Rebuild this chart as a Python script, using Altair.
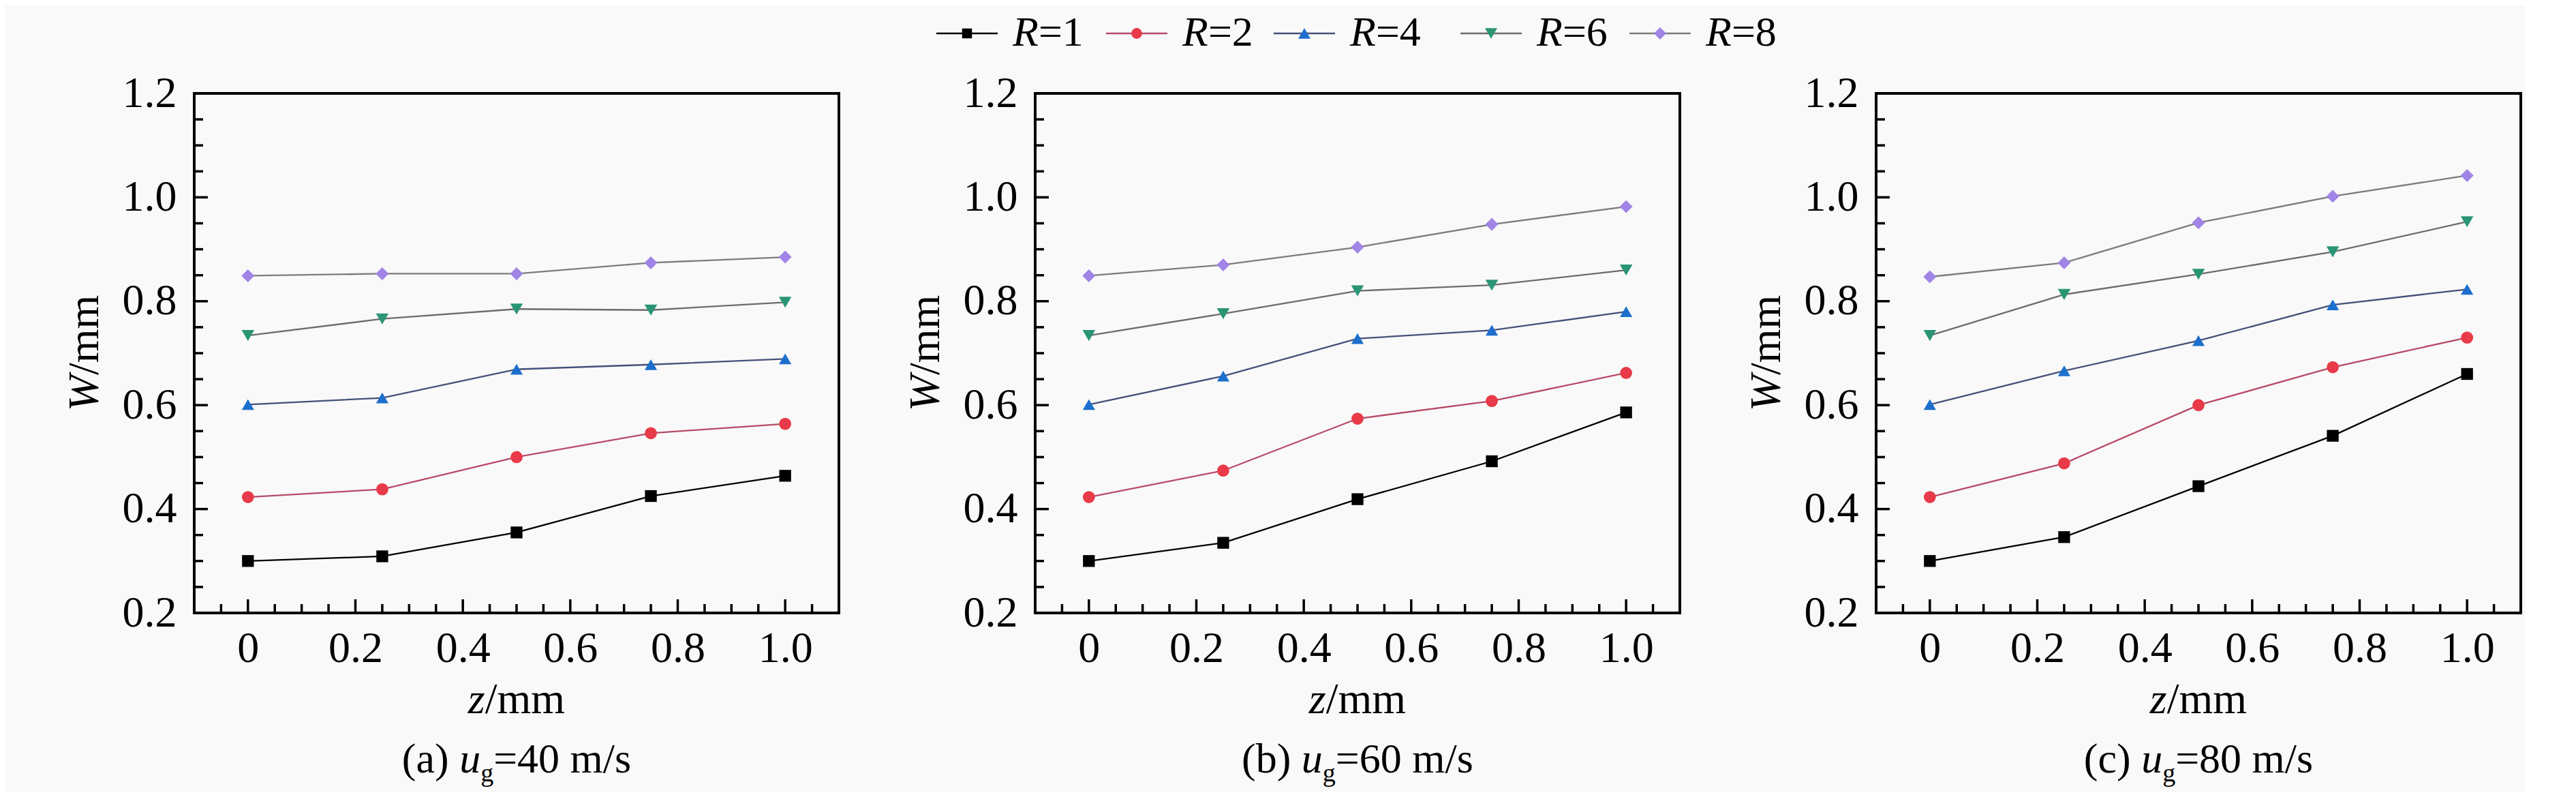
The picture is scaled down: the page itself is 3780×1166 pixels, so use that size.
import altair as alt
import pandas as pd

# ---------------- data ----------------
Z = [0, 0.25, 0.5, 0.75, 1.0]
SERIES = ["R=1", "R=2", "R=4", "R=6", "R=8"]
R_NUM = ["1", "2", "4", "6", "8"]
PANEL_TAGS = ["(a)", "(b)", "(c)"]
SPEEDS = ["40", "60", "80"]

W_A_R1 = [0.300, 0.309, 0.355, 0.425, 0.464]
W_A_R2 = [0.423, 0.438, 0.500, 0.546, 0.564]
W_A_R4 = [0.601, 0.614, 0.669, 0.678, 0.689]
W_A_R6 = [0.734, 0.766, 0.785, 0.783, 0.798]
W_A_R8 = [0.849, 0.853, 0.853, 0.874, 0.885]

W_B_R1 = [0.300, 0.335, 0.419, 0.492, 0.586]
W_B_R2 = [0.423, 0.474, 0.574, 0.608, 0.662]
W_B_R4 = [0.601, 0.656, 0.728, 0.744, 0.780]
W_B_R6 = [0.734, 0.776, 0.820, 0.831, 0.860]
W_B_R8 = [0.849, 0.870, 0.904, 0.948, 0.982]

W_C_R1 = [0.300, 0.346, 0.444, 0.541, 0.660]
W_C_R2 = [0.423, 0.488, 0.600, 0.673, 0.730]
W_C_R4 = [0.601, 0.666, 0.724, 0.793, 0.823]
W_C_R6 = [0.734, 0.813, 0.852, 0.895, 0.953]
W_C_R8 = [0.847, 0.874, 0.951, 1.002, 1.042]

PANEL_DATA = [
    [W_A_R1, W_A_R2, W_A_R4, W_A_R6, W_A_R8],
    [W_B_R1, W_B_R2, W_B_R4, W_B_R6, W_B_R8],
    [W_C_R1, W_C_R2, W_C_R4, W_C_R6, W_C_R8],
]

X_LABELS = [0, 0.2, 0.4, 0.6, 0.8, 1.0]
X_MINOR = [-0.05, 0.05, 0.1, 0.15, 0.25, 0.3, 0.35, 0.45, 0.5, 0.55,
           0.65, 0.7, 0.75, 0.85, 0.9, 0.95, 1.05]
Y_LABELS = [0.2, 0.4, 0.6, 0.8, 1.0, 1.2]
Y_MINOR = [0.25, 0.3, 0.35, 0.45, 0.5, 0.55, 0.65, 0.7, 0.75, 0.85,
           0.9, 0.95, 1.05, 1.1, 1.15]

# ---------------- style ----------------
FONT = "'Liberation Serif', 'Times New Roman', serif"
BG = "#f9f9f9"
LINE_COLORS = ["#000000", "#b84a66", "#46507a", "#6c6c6c", "#7c7c7c"]
MARK_COLORS = ["#000000", "#e83a48", "#1c6fcc", "#2a9575", "#a084e6"]
SHAPES = ["square", "circle", "triangle-up", "triangle-down", "diamond"]
SIZES = [300, 360, 460, 460, 460]

PW, PH = 946, 762
TICK_MAJ, TICK_MIN = 20, 13
FS_TICK, FS_TITLE, FS_CAP, FS_SUB, FS_LEG = 64, 64, 62, 38, 62

REG = {'(': .333, ')': .333, 'a': .444, 'b': .5, 'c': .444, ' ': .25, '=': .564,
       'm': .778, '/': .278, 's': .389, 'g': .5}
for d in "0123456789":
    REG[d] = .5
ITA = {'u': .5, 'z': .389, 'W': .833, 'R': .611}


def tw(s, table, fs):
    return sum(table.get(ch, .5) for ch in s) * fs


def txt(s, x, y, fs, italic=False, align="left", angle=None):
    kw = dict(text=s, font=FONT, fontSize=fs, align=align,
              baseline="alphabetic", color="black")
    if italic:
        kw["fontStyle"] = "italic"
    if angle is not None:
        kw["angle"] = angle
    return alt.Chart(alt.Data(values=[{"k": 1}])).mark_text(**kw).encode(
        x=alt.value(x), y=alt.value(y))


xs = alt.Scale(domain=[-0.1, 1.1], nice=False, zero=False)
ys = alt.Scale(domain=[0.2, 1.2], nice=False, zero=False)
xax = alt.Axis(values=X_LABELS, ticks=False, domain=False, grid=False, title=None,
               labelPadding=20, labelFlush=False, labelOverlap=False,
               labelFont=FONT, labelFontSize=FS_TICK, labelColor="black",
               labelExpr="datum.value == 0 ? '0' : format(datum.value, '.1f')")
yax = alt.Axis(values=Y_LABELS, ticks=False, domain=False, grid=False, title=None,
               labelPadding=26, labelFlush=False, labelOverlap=False,
               labelFont=FONT, labelFontSize=FS_TICK, labelColor="black", format=".1f")


def X(f):
    return alt.X(f, type="quantitative", scale=xs, axis=xax)


def Y(f):
    return alt.Y(f, type="quantitative", scale=ys, axis=yax)


def panel(i):
    rows = []
    for s, vals in zip(SERIES, PANEL_DATA[i]):
        for z, w in zip(Z, vals):
            rows.append({"series": s, "z": z, "W": w})
    df = pd.DataFrame(rows)

    layers = []
    # inward ticks
    layers.append(alt.Chart(pd.DataFrame({"v": Y_LABELS})).mark_rule(
        color="black", strokeWidth=3.5).encode(
        y=Y("v"), x=alt.value(0), x2=alt.value(TICK_MAJ)))
    layers.append(alt.Chart(pd.DataFrame({"v": Y_MINOR})).mark_rule(
        color="black", strokeWidth=3.5).encode(
        y=Y("v"), x=alt.value(0), x2=alt.value(TICK_MIN)))
    layers.append(alt.Chart(pd.DataFrame({"v": X_LABELS})).mark_rule(
        color="black", strokeWidth=3.5).encode(
        x=X("v"), y=alt.value(PH), y2=alt.value(PH - TICK_MAJ)))
    layers.append(alt.Chart(pd.DataFrame({"v": X_MINOR})).mark_rule(
        color="black", strokeWidth=3.5).encode(
        x=X("v"), y=alt.value(PH), y2=alt.value(PH - TICK_MIN)))

    layers.append(alt.Chart(df).mark_line(strokeWidth=2.3).encode(
        x=X("z"), y=Y("W"),
        stroke=alt.Stroke("series:N", scale=alt.Scale(domain=SERIES, range=LINE_COLORS), legend=None),
        detail="series:N"))
    layers.append(alt.Chart(df).mark_point(filled=True, opacity=1, strokeWidth=0).encode(
        x=X("z"), y=Y("W"),
        fill=alt.Fill("series:N", scale=alt.Scale(domain=SERIES, range=MARK_COLORS), legend=None),
        shape=alt.Shape("series:N", scale=alt.Scale(domain=SERIES, range=SHAPES), legend=None),
        size=alt.Size("series:N", scale=alt.Scale(domain=SERIES, range=SIZES), legend=None)))

    # x title: z/mm
    cx = PW / 2
    w_z = tw("z", ITA, FS_TITLE)
    w_rest = tw("/mm", REG, FS_TITLE)
    ax = cx - (w_z + w_rest) / 2 + w_z
    layers.append(txt("z", ax, PH + 147, FS_TITLE, italic=True, align="right"))
    layers.append(txt("/mm", ax, PH + 147, FS_TITLE, align="left"))

    # y title: W/mm (rotated)
    cy = PH / 2
    w_w = tw("W", ITA, FS_TITLE)
    w_rest = tw("/mm", REG, FS_TITLE)
    ay = cy + (w_w + w_rest) / 2 - w_w
    layers.append(txt("W", -141, ay, FS_TITLE, italic=True, align="right", angle=270))
    layers.append(txt("/mm", -141, ay, FS_TITLE, align="left", angle=270))

    # caption: (x) u_g=NN m/s
    p1 = PANEL_TAGS[i] + " "
    p3 = "=" + SPEEDS[i] + " m/s"
    w1 = tw(p1, REG, FS_CAP)
    w2 = tw("u", ITA, FS_CAP)
    w3 = tw("g", REG, FS_SUB)
    w4 = tw(p3, REG, FS_CAP)
    x0 = cx - (w1 + w2 + w3 + w4) / 2
    yb = PH + 234
    layers.append(txt(PANEL_TAGS[i], x0, yb, FS_CAP))
    layers.append(txt("u", x0 + w1, yb, FS_CAP, italic=True))
    layers.append(txt("g", x0 + w1 + w2, yb + 13, FS_SUB))
    layers.append(txt(p3, x0 + w1 + w2 + w3, yb, FS_CAP))

    if i == 1:
        # legend across the top, centred over the middle panel
        LEG_X = [-100, 149, 395, 669, 917]
        ly = -88
        for k, s in enumerate(SERIES):
            lx = LEG_X[k]
            layers.append(alt.Chart(alt.Data(values=[{"k": 1}])).mark_rule(
                color=LINE_COLORS[k], strokeWidth=2.3).encode(
                x=alt.value(lx - 45), x2=alt.value(lx + 45), y=alt.value(ly)))
            layers.append(alt.Chart(alt.Data(values=[{"k": 1}])).mark_point(
                filled=True, opacity=1, strokeWidth=0, color=MARK_COLORS[k],
                shape=SHAPES[k], size=SIZES[k] * 0.7).encode(
                x=alt.value(lx), y=alt.value(ly)))
            tx = lx + 67
            layers.append(txt("R", tx, ly + 18, FS_LEG, italic=True))
            layers.append(txt("=" + R_NUM[k], tx + tw("R", ITA, FS_LEG), ly + 18, FS_LEG))

    return alt.layer(*layers).properties(width=PW, height=PH)


chart = alt.hconcat(panel(0), panel(1), panel(2), spacing=288, bounds="flush").properties(
    padding={"left": 82, "top": 7, "right": 5, "bottom": 5}
).configure(background=BG, font=FONT).configure_view(
    stroke="black", strokeWidth=4
).configure_axis(
    labelFont=FONT, labelFontSize=FS_TICK, labelColor="black"
)

chart.save("out.html", embed_options={"renderer": "svg", "actions": False})
